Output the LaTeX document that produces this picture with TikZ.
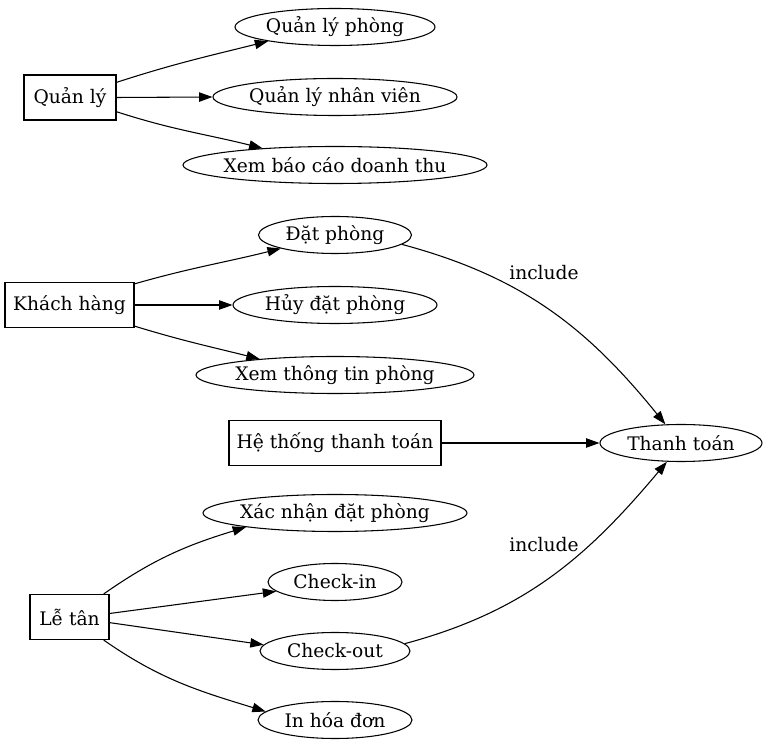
\documentclass[tikz,border=0pt]{standalone}
\usepackage{fontspec}
\setmainfont{DejaVu Serif}
\usetikzlibrary{shapes.geometric,arrows.meta}
\tikzset{
  uc/.style={draw, ellipse, inner sep=0pt, inner xsep=-30pt, minimum height=27.75pt, minimum width=#1, font=\fontsize{14pt}{17pt}\selectfont},
  actor/.style={draw, rectangle, inner sep=0pt, minimum height=33.75pt, minimum width=#1, font=\fontsize{14pt}{17pt}\selectfont},
  lbl/.style={inner sep=0pt, font=\fontsize{14pt}{17pt}\selectfont},
  edge/.style={-{Triangle[length=10pt,width=7pt]}, line width=0.8pt},
}
\begin{document}
\begin{tikzpicture}[x=0.75pt,y=0.75pt, line width=0.8pt]
\useasboundingbox (0,0) rectangle (768,750);
% actors
\node[actor=69pt] (qly) at (70,652.5) {Quản lý};
\node[actor=96.75pt] (kh) at (69.5,445) {Khách hàng};
\node[actor=159pt] (httt) at (335,307) {Hệ thống thanh toán};
\node[actor=59.25pt] (lt) at (69.5,133) {Lễ tân};
% use cases
\node[uc=150pt] (qlp) at (335,723) {Quản lý phòng};
\node[uc=183pt] (qlnv) at (335,653) {Quản lý nhân viên};
\node[uc=228pt] (xbc) at (335,585) {Xem báo cáo doanh thu};
\node[uc=114.75pt] (dp) at (335,515) {Đặt phòng};
\node[uc=153pt] (hdp) at (335,445) {Hủy đặt phòng};
\node[uc=208.5pt] (xtt) at (335,375) {Xem thông tin phòng};
\node[uc=121.5pt] (tt) at (681,307) {Thanh toán};
\node[uc=198pt] (xn) at (335,237) {Xác nhận đặt phòng};
\node[uc=100.5pt] (ci) at (335,168) {Check-in};
\node[uc=112.5pt] (co) at (335,99) {Check-out};
\node[uc=115.5pt] (hd) at (335,30) {In hóa đơn};
% labels
\node[lbl] (inc1) at (544,477) {include};
\node[lbl] (inc2) at (544,205) {include};
% edges
\draw[edge] (qly.18.6) to[out=18, in=194] (qlp.192);
\draw[edge] (qly.east) -- (qlnv.west);
\draw[edge] (qly.-17.5) to[out=-18, in=166] (xbc.167);
\draw[edge] (kh.18) to[out=16, in=194] (dp.194);
\draw[edge] (kh.east) -- (hdp.west);
\draw[edge] (kh.-18.6) to[out=-17, in=166] (xtt.168);
\draw[edge] (dp.-8) to[out=-15, in=129] (tt.130);
\draw[edge] (httt.east) -- (tt.west);
\draw[edge] (co.6.5) to[out=15, in=230] (tt.233);
\draw[edge] (lt.34.5) to[out=35, in=197] (xn.189);
\draw[edge] (lt.5.6) -- (ci.189);
\draw[edge] (lt.-8.5) -- (co.175);
\draw[edge] (lt.-34.5) to[out=-35, in=163] (hd.173);
\end{tikzpicture}
\end{document}
